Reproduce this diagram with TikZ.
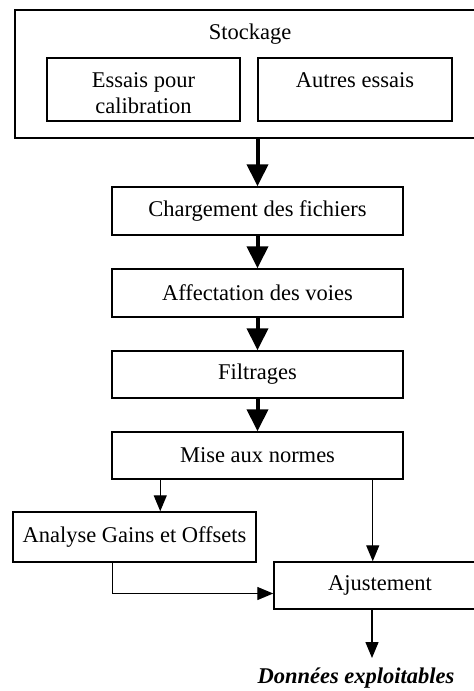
\documentclass[tikz,border=0pt]{standalone}
\usepackage{fontspec}
\setmainfont{Liberation Serif}
\usetikzlibrary{arrows.meta}
\tikzset{
  x=1pt, y=-1pt,
  every node/.style={font=\fontsize{22.5}{26}\selectfont},
  box/.style={draw, line width=1.5pt, inner sep=0pt, align=center},
  bigarrow/.style={line width=4pt, -{Triangle[width=21pt,length=22pt]}},
  thinarrow/.style={line width=1.4pt, -{Triangle[width=13pt,length=16pt]}}
}
\begin{document}
\begin{tikzpicture}
\useasboundingbox (0,0) rectangle (474,691);
\clip (0,0) rectangle (474,691);
\fill[white] (0,0) rectangle (474,691);
% Stockage container
\node[box, line width=2pt, anchor=north west, minimum width=472pt, minimum height=128pt] (stock) at (14,9) {};
\node[anchor=base] (stocklbl) at (250,39) {Stockage};
\node[box, minimum width=193pt, minimum height=63pt] (essais) at (143.5,89.5) {};
\node[anchor=base, align=center] (essaistxt) at (143.5,113) {Essais pour\\calibration};
\node[box, minimum width=194pt, minimum height=63pt] (autres) at (355,89.5) {};
\node[anchor=base] (autrestxt) at (355,87) {Autres essais};
% chain
\node[box, minimum width=291pt, minimum height=48pt] (chg) at (257.5,211) {Chargement des fichiers};
\node[box, minimum width=291pt, minimum height=48pt] (aff) at (257.5,293) {Affectation des voies};
\node[box, minimum width=291pt, minimum height=47pt] (fil) at (257.5,374.5) {Filtrages};
\node[box, minimum width=291pt, minimum height=47pt] (mise) at (257.5,455.5) {Mise aux normes};
\node[box, minimum width=243pt, minimum height=50pt] (ana) at (134.5,537) {Analyse Gains et Offsets};
\node[box, minimum width=212pt, minimum height=47pt] (aju) at (380,585.5) {Ajustement};
\node[anchor=base, font=\fontsize{22.5}{27}\selectfont\bfseries\itshape] (out) at (356,683) {Données exploitables};
\coordinate (outtip) at (372,658);
% connectors
\draw[bigarrow] (stock.south -| chg.north) -- (chg.north);
\draw[bigarrow] (chg.south) -- (aff.north);
\draw[bigarrow] (aff.south) -- (fil.north);
\draw[bigarrow] (fil.south) -- (mise.north);
\draw[thinarrow] ([xshift=49pt]mise.south west) -- ([xshift=49pt]mise.south west |- ana.north);
\draw[thinarrow] ([xshift=-31pt]mise.south east) -- ([xshift=-31pt]mise.south east |- aju.north);
\draw[thinarrow] ([xshift=-22pt]ana.south) |- ([yshift=-8pt]aju.west);
\draw[thinarrow] (aju.south -| outtip) -- (outtip);
\end{tikzpicture}
\end{document}
